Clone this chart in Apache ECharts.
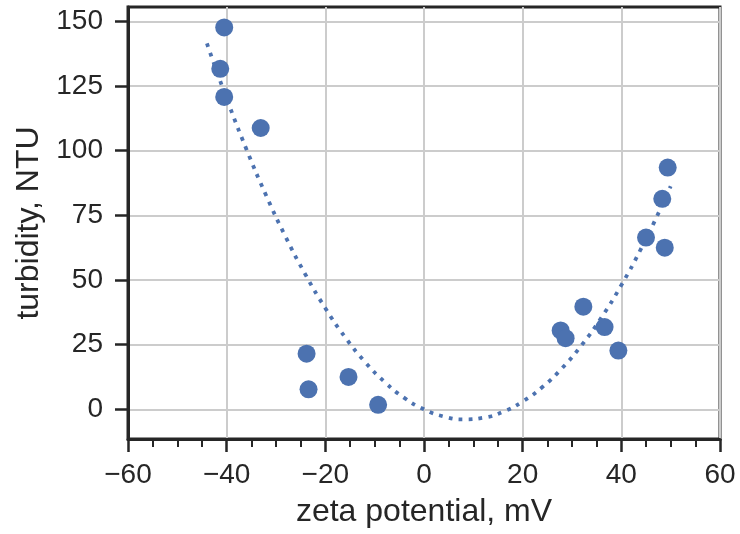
<!DOCTYPE html>
<html>
<head>
<meta charset="utf-8">
<title>turbidity vs zeta potential</title>
<script src="https://cdn.jsdelivr.net/npm/echarts@6.0.0/dist/echarts.min.js"></script>
<style>
  html, body { margin: 0; padding: 0; background: #fff; }
  #main { width: 740px; height: 534px; }
</style>
</head>
<body>
<div id="main"></div>
<script>
    // measured points (zeta potential mV, turbidity NTU)
    var zeta = [-40.5, -41.3, -40.5, -33.1, -23.8, -23.4, -15.3, -9.3, 27.7, 28.7, 32.3, 36.6, 39.4, 45.0, 48.3, 48.8, 49.4];
    var turb = [147.7, 131.7, 120.8, 108.8, 21.5, 7.7, 12.5, 1.7, 30.5, 27.5, 39.7, 31.8, 22.7, 66.4, 81.4, 62.5, 93.5];

    // dotted trend curve
    var fitX = [-44, -40, -36, -32, -28, -24, -20, -16, -12, -8, -4, 0, 4, 8, 12, 16, 20, 24, 28, 32, 36, 40, 44, 48, 50];
    var fitY = [141.5, 120.2, 100.6, 82.7, 66.5, 52.0, 39.1, 27.9, 18.4, 10.6, 4.4, 0, -2.8, -3.9, -3.3, -1.0, 3.0, 8.6, 15.9, 24.9, 35.6, 48.0, 62.1, 77.8, 86.3];

    // tick labels
    var yTicks = [0, 25, 50, 75, 100, 125, 150];

    var blue = '#4c72b0';
    var ink = '#262626';
    var font = '"Liberation Sans", Arial, sans-serif';

    var pts = zeta.map(function (x, i) { return [x, turb[i]]; });
    var curve = fitX.map(function (x, i) { return [x, fitY[i]]; });

    var chart = echarts.init(document.getElementById('main'), null, {renderer: 'canvas'});
    chart.setOption({
        animation: false,
        backgroundColor: '#fff',
        grid: {
            left: 128, right: 20, top: 7, bottom: 95,
            show: true, borderColor: ink, borderWidth: 3, backgroundColor: 'transparent'
        },
        xAxis: {
            type: 'value',
            min: -60, max: 60, interval: 20,
            name: 'zeta potential, mV',
            nameLocation: 'middle',
            nameGap: 57,
            nameTextStyle: {color: ink, fontSize: 32, fontFamily: font},
            axisLine: {show: true, onZero: false, lineStyle: {color: ink, width: 3}},
            axisTick: {show: true, length: 13, lineStyle: {color: ink, width: 2.5}},
            minorTick: {show: true, splitNumber: 4, length: 8, lineStyle: {color: ink, width: 2}},
            axisLabel: {
                color: ink, fontSize: 28, fontFamily: font, margin: 22,
                formatter: function (v) { return String(v).replace('-', '\u2212'); }
            },
            splitLine: {show: true, lineStyle: {color: '#cccccc', width: 2}}
        },
        yAxis: {
            type: 'value',
            min: -11.5, max: 155.6,
            name: 'turbidity, NTU',
            nameLocation: 'middle',
            nameRotate: 90,
            nameGap: 77,
            nameTextStyle: {color: ink, fontSize: 32, fontFamily: font},
            axisLine: {show: true, onZero: false, lineStyle: {color: ink, width: 3}},
            axisTick: {show: true, length: 13, customValues: yTicks, lineStyle: {color: ink, width: 2.5}},
            axisLabel: {color: ink, fontSize: 28, fontFamily: font, margin: 25, customValues: yTicks},
            splitLine: {show: true, lineStyle: {color: '#cccccc', width: 2}}
        },
        series: [
            {
                type: 'line',
                data: curve,
                smooth: true,
                showSymbol: false,
                lineStyle: {color: blue, width: 3.8, type: [3.8, 6.2]},
                z: 2
            },
            {
                type: 'scatter',
                data: pts,
                symbolSize: 18,
                itemStyle: {color: blue, opacity: 1},
                z: 3
            }
        ]
    });
</script>
</body>
</html>
